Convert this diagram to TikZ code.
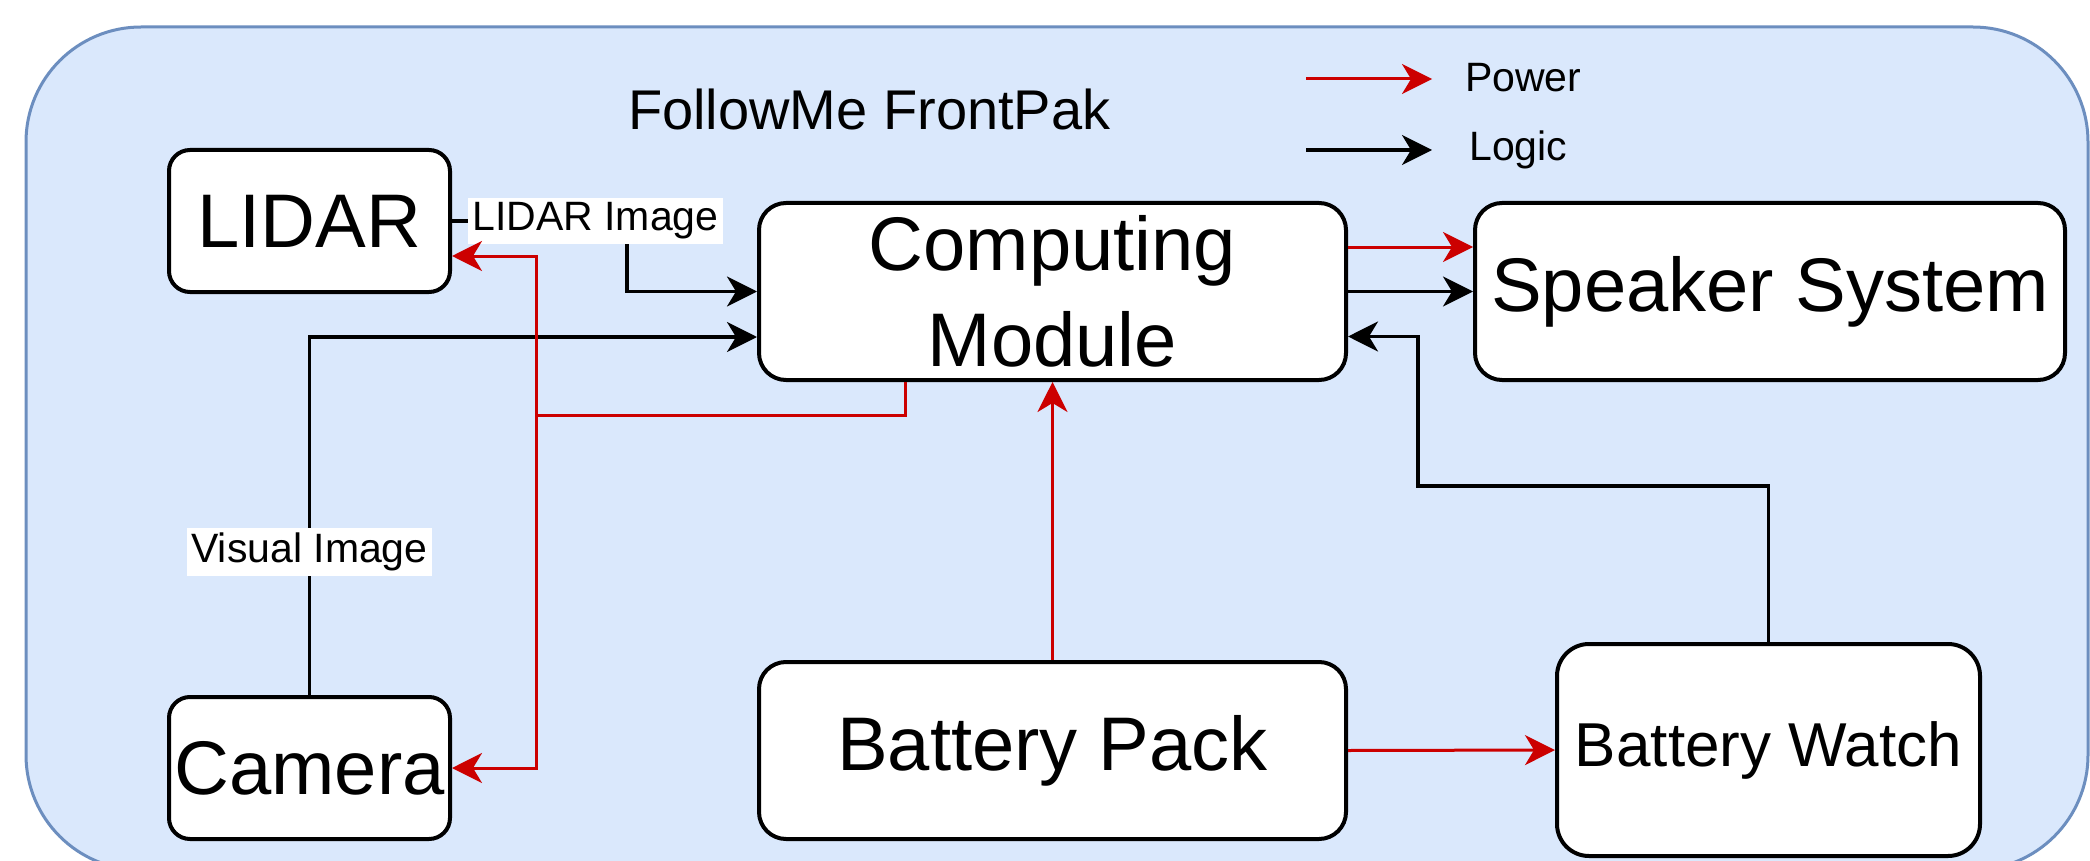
\documentclass[tikz,border=0pt]{standalone}
\usepackage{fontspec}
\setmainfont{Liberation Sans}
\usetikzlibrary{arrows.meta,calc}
\definecolor{contfill}{HTML}{DAE8FC}
\definecolor{contdraw}{HTML}{6C8EBF}
\definecolor{pwr}{HTML}{CC0000}
\begin{document}
\begin{tikzpicture}[x=1pt,y=-1pt,
  box/.style={draw=black, line width=4pt, fill=white, inner sep=0pt, align=center, font=\fontsize{76}{96}\selectfont},
  logic/.style={draw=black, line width=3.5pt, -{Stealth[length=30pt,width=30pt,inset=9pt]}},
  pwrline/.style={draw=pwr, line width=3pt},
  power/.style={pwrline, -{Stealth[length=30pt,width=30pt,inset=9pt]}},
  lbl/.style={fill=white, inner xsep=4pt, inner ysep=5pt, font=\fontsize{41}{48}\selectfont},
  legtxt/.style={anchor=base west, inner sep=0pt, font=\fontsize{41}{48}\selectfont},
]
\useasboundingbox (0,0) rectangle (2090,861);
\fill[white] (0,0) rectangle (2090,861);
\draw[fill=contfill, draw=contdraw, line width=3pt, rounded corners=115pt] (26,27) rectangle (2088,870);

\node[anchor=base west, inner sep=0pt, font=\fontsize{56}{60}\selectfont] (title) at (628,130) {FollowMe FrontPak};

% legend
\coordinate (p1) at (1306,79);
\coordinate (p2) at (1432,79);
\coordinate (l1) at (1306,150);
\coordinate (l2) at (1432,150);
\draw[power] (p1) -- (p2);
\draw[logic] (l1) -- (l2);
\node[legtxt] (powertxt) at (1465,92) {Power};
\node[legtxt] (logictxt) at (1469,161) {Logic};

% boxes
\node[box, minimum width=281pt, minimum height=142pt, rounded corners=21pt] (lidar) at (309.5,221) {LIDAR};
\node[box, minimum width=281pt, minimum height=142pt, rounded corners=21pt] (cam) at (309.5,768) {Camera};
\node[box, minimum width=587pt, minimum height=177pt, rounded corners=27pt] (cm) at (1052.5,291.5) {Computing\\Module};
\node[box, minimum width=590pt, minimum height=177pt, rounded corners=27pt] (ss) at (1770,291.5) {Speaker System};
\node[box, minimum width=587pt, minimum height=177pt, rounded corners=27pt] (bp) at (1052.5,750.5) {Battery Pack};
\node[box, font=\fontsize{62}{70}\selectfont, minimum width=423pt, minimum height=212pt, rounded corners=32pt] (bw) at (1768.5,750) {Battery Watch};

% logic connectors
\draw[logic] (lidar.east) -- (627,221) node[lbl, pos=0.82] {LIDAR Image} |- (cm.west);
\draw[logic] (cam.north) |- node[lbl, pos=0.2] {Visual Image} ($(cm.west)+(0,45.5)$);
\coordinate (bwk) at (1418,486);
\draw[logic] (bw.north) |- (bwk) |- ($(cm.east)+(0,45)$);
\draw[logic] (cm.east) -- (ss.west);

% power connectors
\coordinate (cmb) at ($(cm.south)+(-147.5,0)$);
\coordinate (j) at (536,415);
\draw[pwrline] (cmb) |- (j);
\draw[power] (j) |- ($(lidar.east)+(0,35)$);
\draw[power] (j) |- (cam.east);
\draw[power] (bp.north) -- (cm.south);
\draw[power] (bp.east) -- (bw.west);
\draw[power] ($(cm.east)+(0,-44.5)$) -- ($(ss.west)+(0,-44.5)$);
\end{tikzpicture}
\end{document}
